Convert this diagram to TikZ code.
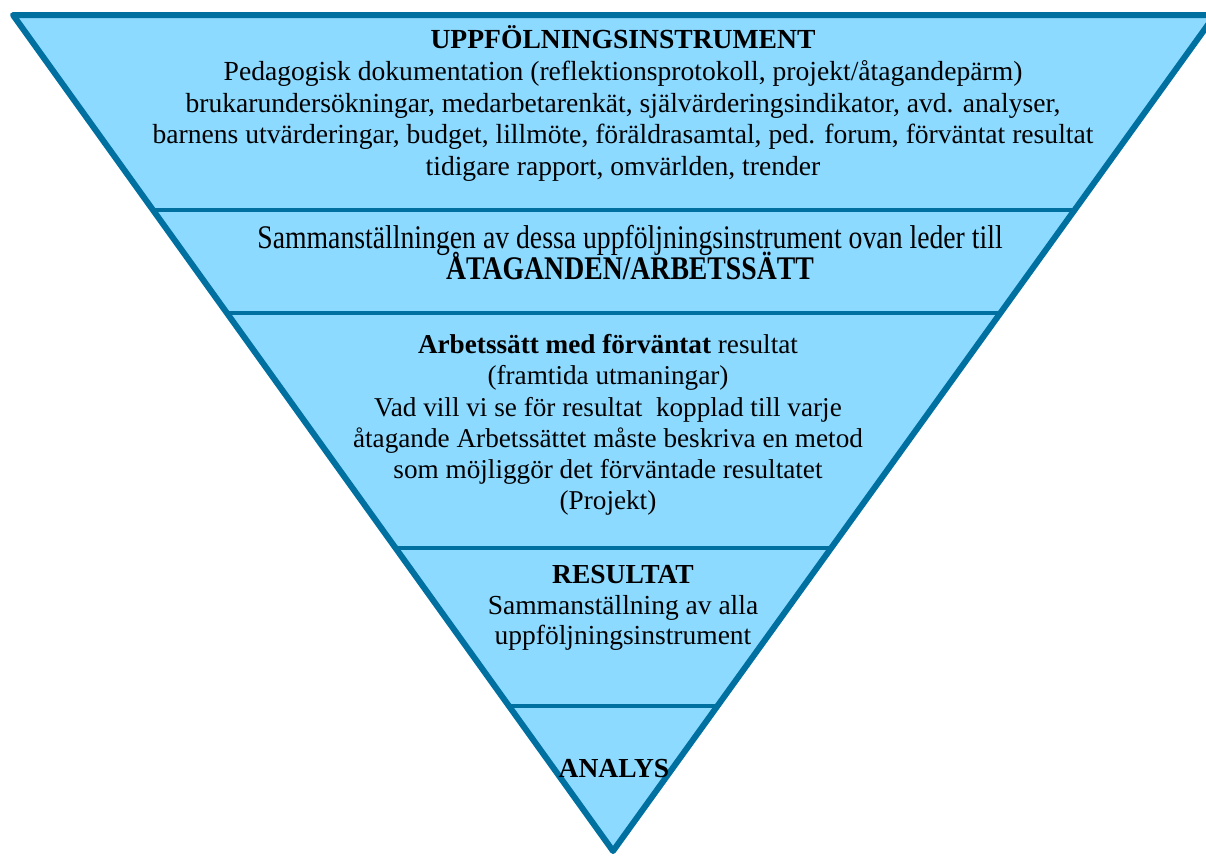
\documentclass[tikz,border=0pt]{standalone}
\usepackage{fontspec}
\setmainfont{Liberation Serif}
\definecolor{fillblue}{RGB}{140,218,255}
\definecolor{edgeblue}{RGB}{0,112,160}
\begin{document}
\begin{tikzpicture}[x=1pt,y=-1pt,
  txt/.style={anchor=base,inner sep=0pt,font=\fontsize{27.6}{32}\selectfont},
  btxt/.style={txt,font=\fontsize{27.6}{32}\selectfont\bfseries},
  mtxt/.style={anchor=base,inner sep=0pt,font=\fontsize{27.2}{32}\selectfont},
  rtxt/.style={anchor=base,inner sep=0pt,font=\fontsize{27.5}{32}\selectfont},
  rbtxt/.style={rtxt,font=\fontsize{27.5}{32}\selectfont\bfseries},
  divider/.style={draw=edgeblue,line width=4pt},
  border/.style={draw=edgeblue,line width=6pt,line join=round}]
\useasboundingbox (0,0) rectangle (1206,860);
\begin{scope}
\clip (0,0) rectangle (1206,860);
\coordinate (tl) at (13,15);
\coordinate (tr) at (1215,15);
\coordinate (ap) at (613,851);
\fill[fillblue] (tl) -- (tr) -- (ap) -- cycle;
\begin{scope}
\clip (tl) -- (tr) -- (ap) -- cycle;
\foreach \yy in {210,313,548,706} {\draw[divider] (0,\yy) -- (1206,\yy);}
\end{scope}
\draw[border] (tl) -- (tr) -- (ap) -- cycle;
\end{scope}
% section 1
\node[btxt] (s1a) at (623,48) {UPPFÖLNINGSINSTRUMENT};
\node[txt] (s1b) at (623,80) {Pedagogisk dokumentation (reflektionsprotokoll, projekt/åtagandepärm)};
\node[txt] (s1c) at (623,112) {brukarundersökningar, medarbetarenkät, självärderingsindikator, avd. analyser,};
\node[txt] (s1d) at (623,143) {barnens utvärderingar, budget, lillmöte, föräldrasamtal, ped. forum, förväntat resultat};
\node[txt] (s1e) at (623,175) {tidigare rapport, omvärlden, trender};
% section 2
\node[txt] (s2a) at (630,248) {\scalebox{0.84}[1]{\fontsize{33}{38}\selectfont Sammanställningen av dessa uppföljningsinstrument ovan leder till}};
\node[txt] (s2b) at (630,279) {\scalebox{0.84}[1]{\fontsize{33}{38}\selectfont\bfseries ÅTAGANDEN/ARBETSSÄTT}};
% section 3
\node[mtxt] (s3a) at (608,353) {\textbf{Arbetssätt med förväntat} resultat};
\node[mtxt] (s3b) at (608,384) {(framtida utmaningar)};
\node[mtxt] (s3c) at (608,416) {Vad vill vi se för resultat\ \ kopplad till varje};
\node[mtxt] (s3d) at (608,447) {åtagande Arbetssättet måste beskriva en metod};
\node[mtxt] (s3e) at (608,478) {som möjliggör det förväntade resultatet};
\node[mtxt] (s3f) at (608,509) {(Projekt)};
% section 4
\node[rbtxt] (s4a) at (623,583) {RESULTAT};
\node[rtxt] (s4b) at (623,614) {Sammanställning av alla};
\node[rtxt] (s4c) at (623,644) {uppföljningsinstrument};
% section 5
\node[rbtxt] (s5a) at (614,777) {ANALYS};
\end{tikzpicture}
\end{document}
